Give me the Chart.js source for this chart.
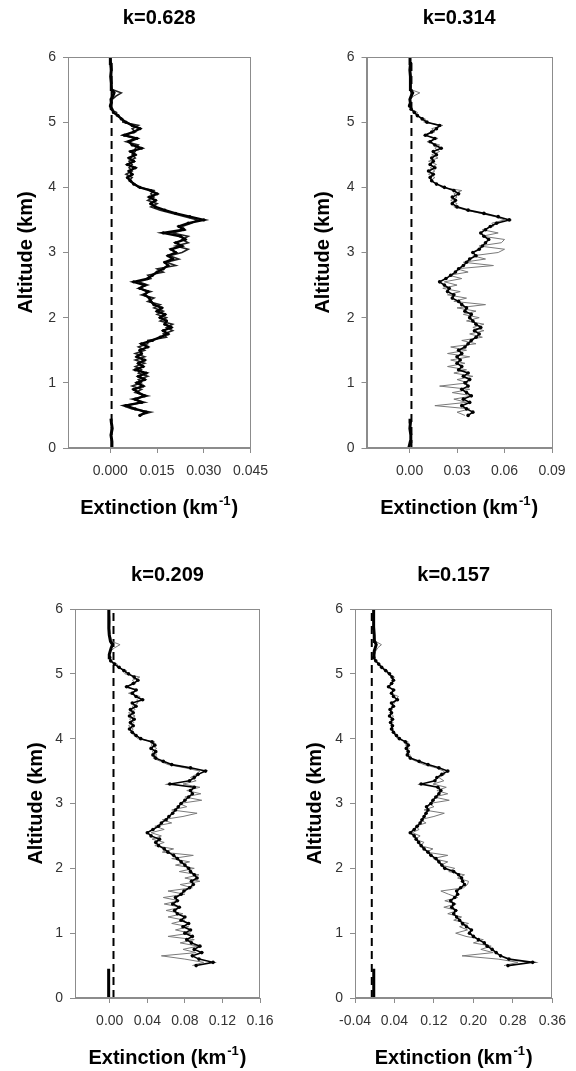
<!DOCTYPE html>
<html>
<head>
<meta charset="utf-8">
<script src="https://cdn.jsdelivr.net/npm/chart.js@4.4.1/dist/chart.umd.min.js"></script>
<style>
html,body{margin:0;padding:0;background:#fff;width:576px;height:1071px;overflow:hidden;}
canvas{position:absolute;}
</style>
</head>
<body>
<canvas id="c1" width="288" height="530" style="left:0px;top:0px;width:288px;height:530px"></canvas>
<canvas id="c2" width="288" height="530" style="left:288px;top:0px;width:288px;height:530px"></canvas>
<canvas id="c3" width="288" height="541" style="left:0px;top:530px;width:288px;height:541px"></canvas>
<canvas id="c4" width="288" height="541" style="left:288px;top:530px;width:288px;height:541px"></canvas>
<script>
// ---------------- DATA ----------------
// Panel titles
const titles = ["k=0.628", "k=0.314", "k=0.209", "k=0.157"];

// Altitude grid (km) shared by all profiles
const altitude = [
  0.00, 0.10, 0.20, 0.30, 0.40, 0.45,
  0.50, 0.55, 0.60, 0.65, 0.70, 0.75, 0.80, 0.85, 0.90, 0.95,
  1.00, 1.05, 1.10, 1.15, 1.20, 1.25, 1.30, 1.35, 1.40, 1.45,
  1.50, 1.55, 1.60, 1.65, 1.70, 1.75, 1.80, 1.85, 1.90, 1.95,
  2.00, 2.05, 2.10, 2.15, 2.20, 2.25, 2.30, 2.35, 2.40, 2.45,
  2.50, 2.55, 2.60, 2.65, 2.70, 2.75, 2.80, 2.85, 2.90, 2.95,
  3.00, 3.05, 3.10, 3.15, 3.20, 3.25, 3.30, 3.35, 3.40, 3.45,
  3.50, 3.55, 3.60, 3.65, 3.70, 3.75, 3.80, 3.85, 3.90, 3.95,
  4.00, 4.05, 4.10, 4.15, 4.20, 4.25, 4.30, 4.35, 4.40, 4.45,
  4.50, 4.55, 4.60, 4.65, 4.70, 4.75, 4.80, 4.85, 4.90, 4.95,
  5.00, 5.05, 5.10, 5.15, 5.20, 5.25,
  5.30, 5.35, 5.40, 5.45, 5.50, 5.60, 5.70, 5.80, 5.90, 6.00
];
// index ranges: near-ground baseline, aerosol layer profile, upper baseline
const lowEnd = 6;      // altitude[0..5]  : 0.00 - 0.45 km
const topStart = 101;  // altitude[101..] : 5.25 - 6.00 km

// Extinction values in units of 1e-3 km^-1
// k = 0.628
const ext628Black = [
  0.3, 0.5, 0.2, 0.6, 0.3, 0.2,
  9.5, 11.5, 8.0, 5.0, 10.0, 8.0, 11.0, 9.0, 7.5, 10.5,
  8.5, 11.0, 9.0, 11.5, 8.0, 10.5, 9.0, 11.0, 8.5, 10.0,
  9.5, 12.0, 10.0, 13.5, 16.0, 18.5, 17.0, 19.5, 17.5, 18.0,
  16.0, 17.5, 15.0, 16.5, 14.0, 13.0, 12.5, 11.0, 12.0, 9.5,
  11.0, 7.5, 12.0, 13.5, 15.0, 17.0, 18.5, 17.5, 20.0, 18.5,
  21.0, 19.5, 23.0, 21.0, 24.0, 22.5, 17.0, 23.5, 22.0, 25.0,
  30.0, 25.5, 21.0, 17.5, 14.5, 13.0, 14.5, 12.5, 15.0, 13.0,
  9.5, 7.5, 6.5, 5.5, 7.0, 6.0, 8.0, 5.5, 7.5, 6.0,
  8.0, 6.5, 10.0, 7.0, 6.0, 8.5, 4.5, 7.5, 9.5, 7.0,
  5.0, 3.5, 2.5, 1.0, 0.5, 0.0,
  0.3, 0.2, 0.8, 1.2, 0.4, 0.3, 0.1, 0.3, 0.1, 0.0
];
const ext628Grey = [
  0.1, 0.3, 0.4, 0.2, 0.5, 0.1,
  9, 13, 7, 4, 11, 7, 12, 8, 10, 7,
  10, 9, 12, 9, 10, 8, 11, 8, 11, 8,
  11, 9, 12, 12, 18, 17, 20, 18, 20, 16,
  18, 15, 17, 14, 16, 12, 14, 10, 13, 9,
  12, 9, 13, 12, 17, 15, 21, 18, 22, 19,
  23, 25, 21, 25, 23, 25, 20, 24, 23, 26,
  28, 24, 20, 16, 13, 15, 12, 14, 13, 14,
  9, 8, 6, 7, 5, 7, 6, 7, 6, 8,
  7, 8, 8, 9, 5, 8, 4, 8, 7, 9,
  4, 4, 2, 2, 0, 0,
  0.5, 0.6, 1.8, 3.5, 0.6, 0.2, 0.4, 0.1, 0.3, 0.0
];
// k = 0.314
const ext314Black = [
  -0.5, 0.5, 0.8, 0.2, 0.6, 0.3,
  37, 40, 36, 33, 38, 34, 39, 36, 33, 37,
  35, 38, 34, 37, 31, 33, 30, 32, 30, 33,
  31, 35, 37, 39, 42, 44, 41, 45, 42, 40,
  38, 39, 35, 36, 33, 31, 27, 28, 24, 25,
  22, 19, 23, 26, 29, 31, 34, 36, 38, 42,
  40, 44, 46, 48, 50, 47, 45, 48, 51, 55,
  63, 56, 47, 37, 30, 27, 29, 27, 31, 28,
  22, 17, 14, 13, 15, 12, 16, 13, 15, 14,
  17, 15, 20, 16, 13, 16, 10, 14, 17, 19,
  11, 8, 5, 3, 1, 0,
  0.5, 0.2, 1.0, 2.0, 0.6, 0.3, 0.8, 0.2, 0.6, 0.3
];
const ext314Grey = [
  0.2, 0.3, 0.6, 0.2, 0.4, 0.1,
  35, 30, 38, 16, 36, 28, 40, 27, 38, 19,
  37, 30, 40, 28, 36, 24, 35, 26, 38, 24,
  36, 26, 42, 33, 46, 38, 47, 40, 47, 36,
  44, 34, 42, 30, 48, 28, 36, 24, 32, 21,
  30, 22, 33, 25, 37, 30, 53, 34, 48, 40,
  56, 60, 44, 58, 60, 46, 56, 46, 53, 52,
  60, 54, 45, 36, 28, 30, 26, 30, 28, 33,
  20, 18, 13, 16, 12, 16, 13, 17, 12, 18,
  14, 19, 16, 19, 11, 18, 9, 16, 14, 21,
  9, 10, 4, 5, 1, 0,
  0.8, 0.5, 2.5, 6.5, 0.8, 0.4, 1.2, 0.3, 0.5, 0.2
];
// k = 0.209
const ext209Black = [
  -1.5, -1.0, -1.8, -0.8, -1.2, -1.0,
  92, 110, 95, 88, 98, 90, 96, 87, 82, 88,
  80, 86, 78, 84, 76, 80, 72, 69, 74, 67,
  72, 70, 76, 79, 85, 89, 87, 93, 90, 86,
  84, 80, 76, 72, 68, 62, 58, 52, 49, 53,
  44, 40, 46, 52, 55, 60, 63, 67, 70, 73,
  76, 80, 84, 88, 86, 90, 64, 85, 90, 94,
  102, 86, 66, 57, 49, 46, 49, 44, 48, 45,
  33, 28, 24, 21, 25, 22, 26, 21, 25, 22,
  28, 24, 35, 28, 24, 28, 18, 25, 30, 26,
  20, 15, 10, 5, 1, 0,
  -0.5, 0.5, 1.5, 3.0, 0.8, -0.5, -1.0, -1.2, -0.8, -1.0
];
const ext209Grey = [
  0.5, 0.0, 0.8, 0.2, 0.5, 0.3,
  88, 100, 80, 55, 92, 78, 94, 75, 90, 62,
  86, 70, 84, 66, 80, 62, 78, 60, 76, 58,
  74, 57, 80, 62, 88, 75, 96, 80, 95, 74,
  90, 70, 85, 66, 89, 56, 68, 48, 58, 45,
  55, 44, 58, 48, 66, 56, 78, 93, 66, 82,
  74, 98, 80, 97, 82, 96, 78, 92, 86, 92,
  96, 80, 62, 54, 46, 50, 45, 50, 44, 48,
  30, 26, 22, 25, 20, 26, 21, 27, 20, 27,
  24, 30, 29, 32, 20, 30, 16, 28, 24, 32,
  16, 18, 8, 8, 1, 0,
  0.0, 1.0, 5.0, 11.0, 2.0, 0.5, 0.0, 0.5, 0.2, 0.0
];
// k = 0.157
const ext157Black = [
  -2.0, -1.5, -2.5, -1.8, -2.2, -2.0,
  270, 320, 272, 255, 246, 238, 228, 222, 210, 200,
  192, 196, 186, 178, 172, 166, 160, 164, 156, 160,
  154, 162, 168, 166, 174, 182, 178, 176, 170, 160,
  142, 136, 130, 124, 114, 108, 100, 94, 89, 84,
  80, 72, 80, 86, 92, 96, 100, 104, 108, 105,
  114, 118, 124, 130, 134, 128, 94, 122, 126, 136,
  148, 130, 108, 90, 72, 66, 68, 64, 68, 62,
  50, 44, 38, 34, 36, 32, 36, 30, 34, 31,
  38, 34, 46, 38, 34, 38, 28, 34, 38, 35,
  30, 22, 14, 8, 2, -2,
  -1.5, -1.0, 1.0, 3.0, 0.0, -1.0, -2.0, -2.5, -2.0, -2.2
];
const ext157Grey = [
  -1.0, -2.0, -0.8, -1.5, -1.0, -1.8,
  262, 290, 250, 177, 240, 215, 236, 200, 220, 185,
  164, 188, 172, 190, 160, 176, 148, 168, 140, 165,
  142, 168, 150, 134, 180, 188, 190, 168, 182, 150,
  162, 134, 148, 118, 148, 104, 118, 92, 100, 82,
  92, 76, 90, 82, 104, 92, 120, 141, 100, 120,
  110, 151, 120, 148, 126, 145, 118, 140, 130, 142,
  140, 124, 100, 84, 70, 72, 64, 70, 62, 68,
  46, 42, 35, 38, 32, 37, 32, 38, 30, 36,
  34, 40, 42, 48, 32, 42, 25, 38, 34, 40,
  26, 26, 12, 10, 0, -2,
  0.0, 2.0, 6.0, 13.6, 2.0, -0.5, -1.5, -1.0, -2.0, -1.5
];

// Dashed reference line positions (km^-1) and its altitude span
const dashedExt = [0.0004, 0.0012, 0.004, -0.006];
const dashedAlt = [0, 6];

// X axis ranges and tick labels
const xMin = [-0.0136, -0.0272, -0.037, -0.04];
const xMax = [0.045, 0.09, 0.16, 0.36];
const xTicks1 = [0, 0.015, 0.030, 0.045];
const xTicks2 = [0, 0.03, 0.06, 0.09];
const xTicks3 = [0, 0.04, 0.08, 0.12, 0.16];
const xTicks4 = [-0.04, 0.04, 0.12, 0.20, 0.28, 0.36];
const xLabels1 = ["0.000", "0.015", "0.030", "0.045"];
const xLabels2 = ["0.00", "0.03", "0.06", "0.09"];
const xLabels3 = ["0.00", "0.04", "0.08", "0.12", "0.16"];
const xLabels4 = ["-0.04", "0.04", "0.12", "0.20", "0.28", "0.36"];
const yTicks = [0, 1, 2, 3, 4, 5, 6];

// ---------------- DRAWING ----------------
const FONT = '"Liberation Sans", Arial, Helvetica, sans-serif';

const deco = {
  id: 'deco',
  afterDraw(chart, args, o) {
    const ctx = chart.ctx, a = chart.chartArea;
    ctx.save();
    ctx.strokeStyle = '#8c8c8c';
    ctx.lineWidth = 1;
    ctx.strokeRect(Math.round(a.left) + 0.5, Math.round(a.top) + 0.5,
                   Math.round(a.right - a.left) - 1, Math.round(a.bottom - a.top) - 1);
    ctx.fillStyle = '#000';
    const cx = (a.left + a.right) / 2;
    ctx.font = 'bold 20px ' + FONT;
    ctx.textAlign = 'center';
    ctx.textBaseline = 'middle';
    ctx.fillText(o.title, cx, o.titleY);
    ctx.save();
    ctx.translate(o.yTitleX, (a.top + a.bottom) / 2);
    ctx.rotate(-Math.PI / 2);
    ctx.fillText('Altitude (km)', 0, 0);
    ctx.restore();
    const main = 'Extinction (km', sup = '-1', end = ')';
    const fMain = 'bold 20px ' + FONT, fSup = 'bold 13px ' + FONT;
    ctx.font = fMain;
    const w1 = ctx.measureText(main).width, w3 = ctx.measureText(end).width;
    ctx.font = fSup;
    const w2 = ctx.measureText(sup).width;
    const x0 = cx - (w1 + w2 + w3 + 2) / 2;
    ctx.textAlign = 'left';
    ctx.font = fMain; ctx.fillText(main, x0, o.xTitleY);
    ctx.font = fSup; ctx.fillText(sup, x0 + w1 + 1, o.xTitleY - 7);
    ctx.font = fMain; ctx.fillText(end, x0 + w1 + w2 + 2, o.xTitleY);
    ctx.restore();
  }
};

function toPoints(vals, from, to) {
  const out = [];
  for (let i = from; i < to; i++) out.push({ x: vals[i] / 1000, y: altitude[i] });
  return out;
}

function makePanel(id, p) {
  const canvas = document.getElementById(id);
  const H = canvas.height;
  const N = altitude.length;
  new Chart(canvas.getContext('2d'), {
    type: 'scatter',
    data: {
      datasets: [
        { data: toPoints(p.black, lowEnd, topStart + 1), showLine: true, borderColor: '#000',
          borderWidth: p.lw, pointRadius: p.pr, pointBackgroundColor: '#000', pointBorderWidth: 0 },
        { data: toPoints(p.black, 0, lowEnd), showLine: true, borderColor: '#000',
          borderWidth: 3, pointRadius: 0 },
        { data: toPoints(p.black, topStart, N), showLine: true, borderColor: '#000',
          borderWidth: 3, pointRadius: 0 },
        { data: toPoints(p.grey, lowEnd, N), showLine: true, borderColor: p.greyColor,
          borderWidth: p.glw, pointRadius: 0 },
        { data: dashedAlt.map(a => ({ x: p.dash, y: a })), showLine: true, borderColor: '#000',
          borderWidth: 2, borderDash: [8, 5], pointRadius: 0 }
      ]
    },
    options: {
      responsive: false,
      animation: false,
      events: [],
      layout: { padding: { top: p.top, right: p.padRight, bottom: 0, left: 0 } },
      plugins: {
        legend: { display: false },
        tooltip: { enabled: false },
        deco: { title: p.title, titleY: p.titleY, yTitleX: p.yTitleX, xTitleY: p.xTitleY }
      },
      scales: {
        x: {
          type: 'linear', min: p.xmin, max: p.xmax,
          afterBuildTicks: s => { s.ticks = p.ticks.map(v => ({ value: v })); },
          afterFit: s => { s.height = H - p.bottom; },
          ticks: { callback: (v, i) => p.labels[i], autoSkip: false, maxRotation: 0,
                   font: { family: FONT, size: 14 }, color: '#333', padding: 10 },
          grid: { drawOnChartArea: false, tickLength: 5, color: '#8c8c8c' },
          border: { display: true, color: '#8c8c8c', width: 1 }
        },
        y: {
          type: 'linear', min: 0, max: 6,
          afterBuildTicks: s => { s.ticks = yTicks.map(v => ({ value: v })); },
          afterFit: s => { s.width = p.left; },
          ticks: { font: { family: FONT, size: 14 }, color: '#333', padding: 7 },
          grid: { drawOnChartArea: false, tickLength: 5, color: '#8c8c8c' },
          border: { display: true, color: '#8c8c8c', width: 1 }
        }
      }
    },
    plugins: [deco]
  });
}

makePanel('c1', { black: ext628Black, grey: ext628Grey, dash: dashedExt[0], lw: 2.4, pr: 1.6,
  greyColor: '#222', glw: 1.6,
  xmin: xMin[0], xmax: xMax[0], ticks: xTicks1, labels: xLabels1, title: titles[0],
  left: 68, padRight: 37.5, top: 57, bottom: 448, titleY: 18, yTitleX: 26, xTitleY: 508 });
makePanel('c2', { black: ext314Black, grey: ext314Grey, dash: dashedExt[1], lw: 1.6, pr: 1.8,
  greyColor: '#7a7a7a', glw: 1,
  xmin: xMin[1], xmax: xMax[1], ticks: xTicks2, labels: xLabels2, title: titles[1],
  left: 78.5, padRight: 24, top: 57, bottom: 448, titleY: 18, yTitleX: 35.5, xTitleY: 508 });
makePanel('c3', { black: ext209Black, grey: ext209Grey, dash: dashedExt[2], lw: 1.6, pr: 1.8,
  greyColor: '#7a7a7a', glw: 1,
  xmin: xMin[2], xmax: xMax[2], ticks: xTicks3, labels: xLabels3, title: titles[2],
  left: 75, padRight: 28, top: 79, bottom: 468, titleY: 45, yTitleX: 36, xTitleY: 528 });
makePanel('c4', { black: ext157Black, grey: ext157Grey, dash: dashedExt[3], lw: 1.6, pr: 1.8,
  greyColor: '#7a7a7a', glw: 1,
  xmin: xMin[3], xmax: xMax[3], ticks: xTicks4, labels: xLabels4, title: titles[3],
  left: 67, padRight: 18, top: 79, bottom: 468, titleY: 45, yTitleX: 27, xTitleY: 528 });
</script>
</body>
</html>
